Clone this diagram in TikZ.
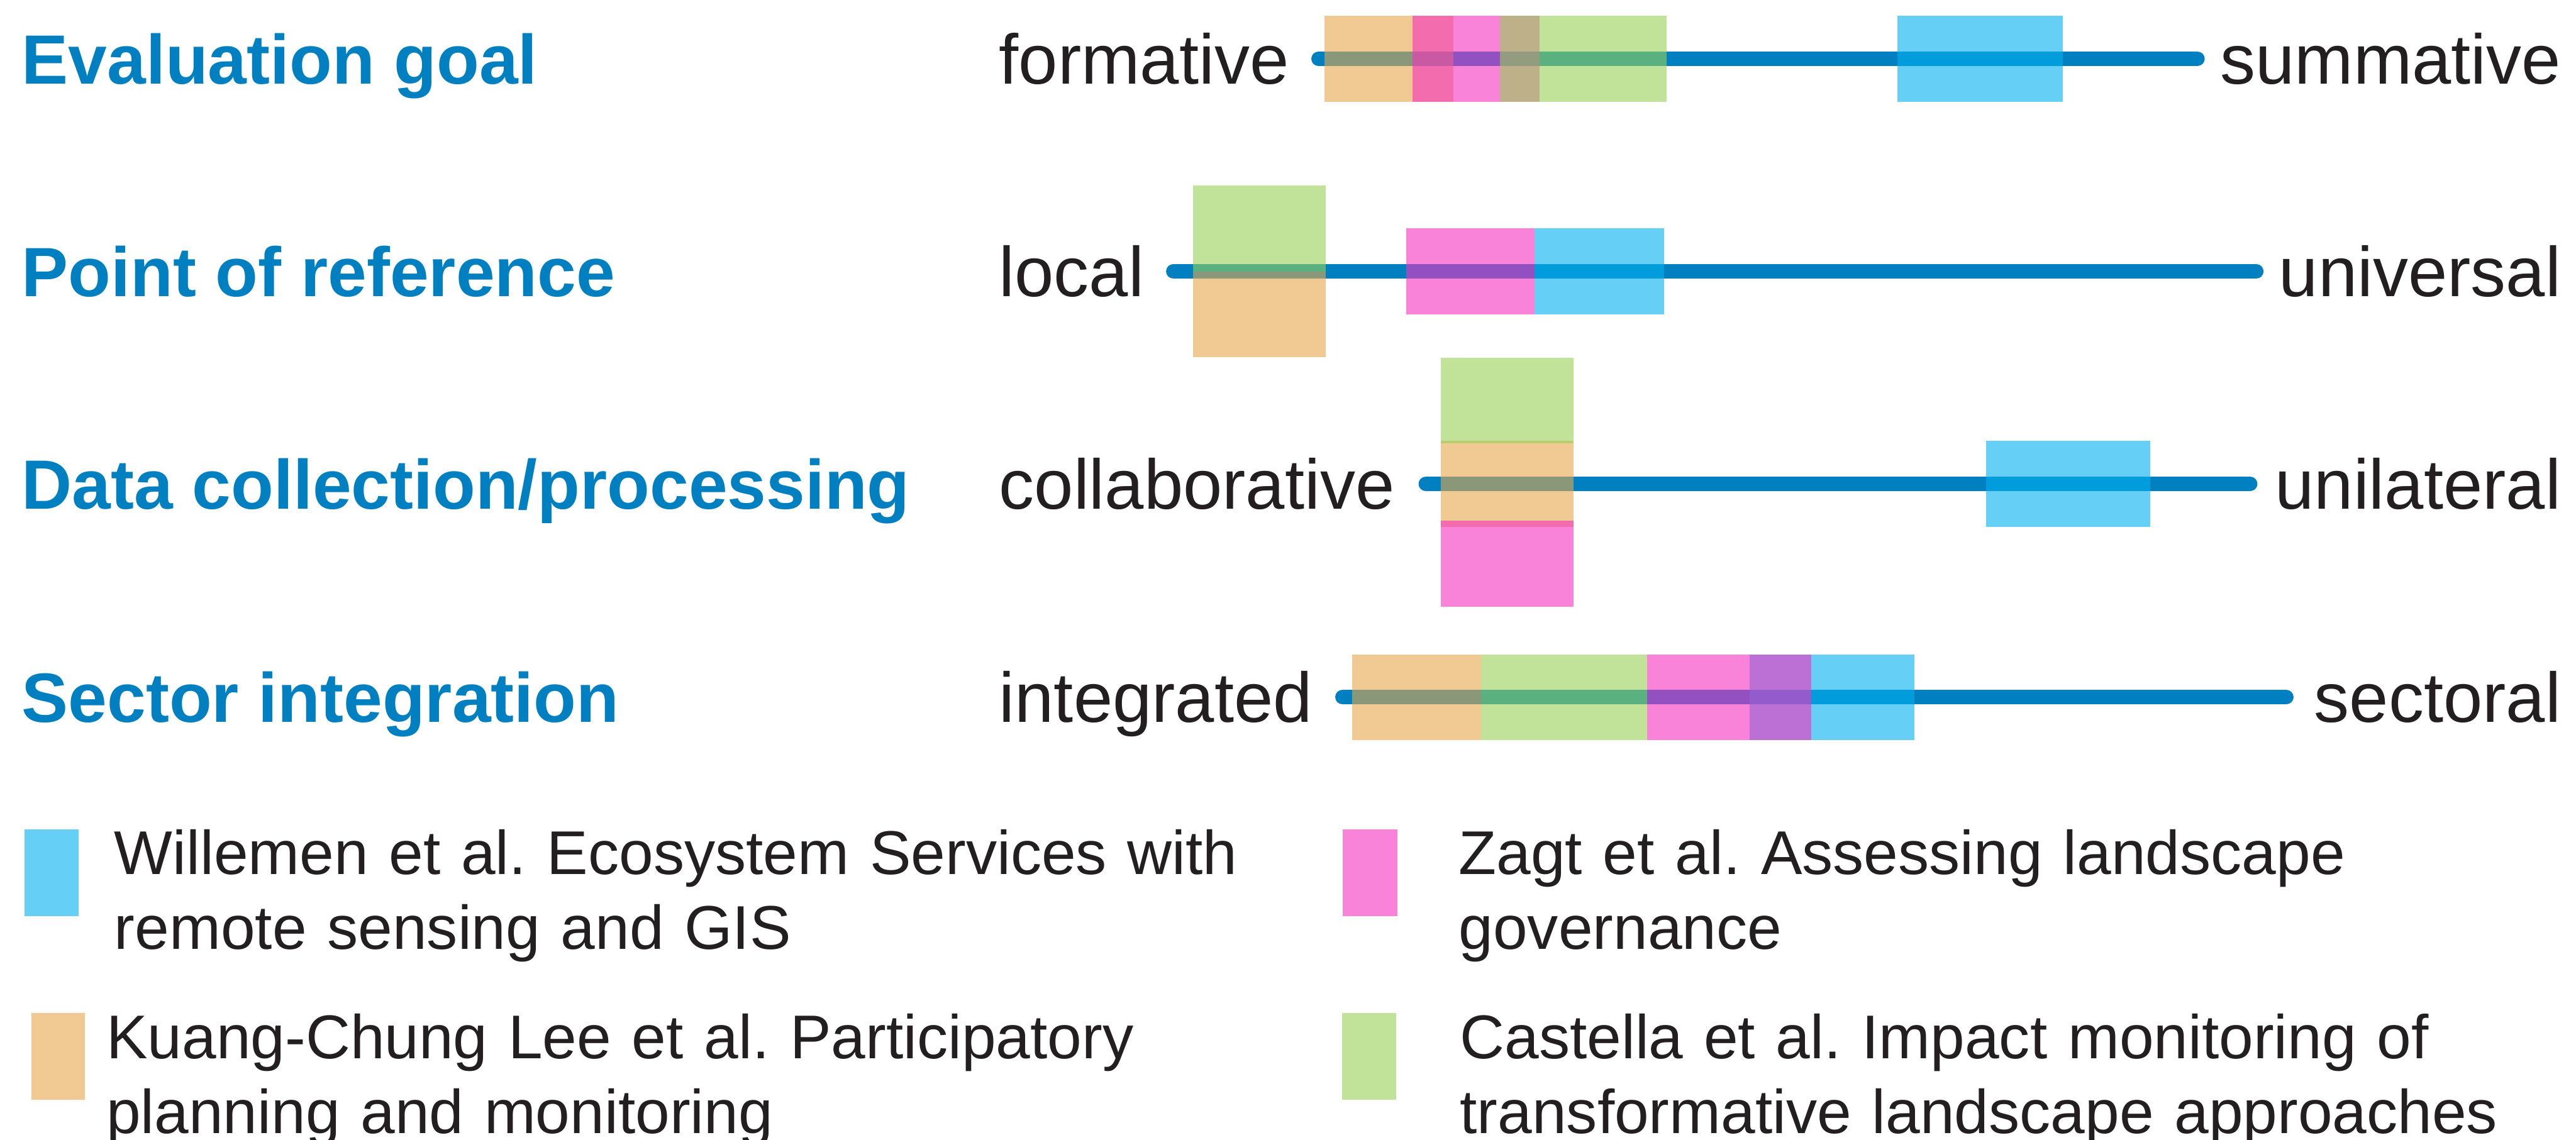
\documentclass[tikz,border=0pt]{standalone}
\usepackage{fontspec}
\setmainfont{Liberation Sans}
\usepackage{tikz}
\usetikzlibrary{positioning}
\usepackage{xcolor}
\frenchspacing

\definecolor{axisblue}{HTML}{0080C0}
\definecolor{inkblack}{HTML}{231F20}
\definecolor{willemen}{HTML}{00AFF0}
\definecolor{lee}{HTML}{E8A74B}
\definecolor{zagt}{HTML}{F530C0}
\definecolor{castella}{HTML}{96D055}

\tikzset{
  axistitle/.style={anchor=base west, inner sep=0pt, text=axisblue, font=\fontsize{32.4}{39}\selectfont\bfseries},
  poleleft/.style={anchor=base west, inner sep=0pt, text=inkblack, font=\fontsize{32.7}{39}\selectfont},
  poleright/.style={anchor=base east, inner sep=0pt, text=inkblack, font=\fontsize{32.7}{39}\selectfont},
  scaleline/.style={draw=axisblue, line width=0.24cm, line cap=round},
  band/.style={draw=none, fill opacity=0.6},
  legendtext/.style={anchor=base west, inner sep=0pt, text=inkblack, text width=20cm, align=left,
    font=\fontsize{28.7}{34.7}\selectfont}
}

\begin{document}
\begin{tikzpicture}
            \useasboundingbox (0,0) rectangle (42.04,18.60);

            % Row 1 - evaluation goal
            \node[axistitle] (goal) at (0.35,17.23) {Evaluation goal};
            \node[poleleft] (formative) at (16.30,17.23) {formative};
            \node[poleright] (summative) at (41.80,17.23) {summative};
            \coordinate (goalL) at (21.52,17.64);
            \coordinate (goalR) at (35.86,17.64);
            \draw[scaleline] (goalL) -- (goalR);

            % Row 2 - point of reference
            \node[axistitle] (reference) at (0.35,13.76) {Point of reference};
            \node[poleleft] (local) at (16.30,13.76) {local};
            \node[poleright] (universal) at (41.80,13.76) {universal};
            \coordinate (refL) at (19.15,14.17);
            \coordinate (refR) at (36.82,14.17);
            \draw[scaleline] (refL) -- (refR);

            % Row 3 - data collection
            \node[axistitle] (data) at (0.35,10.29) {Data collection/processing};
            \node[poleleft] (collaborative) at (16.30,10.29) {collaborative};
            \node[poleright] (unilateral) at (41.80,10.29) {unilateral};
            \coordinate (dataL) at (23.27,10.70);
            \coordinate (dataR) at (36.72,10.70);
            \draw[scaleline] (dataL) -- (dataR);

            % Row 4 - sector integration
            \node[axistitle] (sector) at (0.35,6.81) {Sector integration};
            \node[poleleft] (integrated) at (16.30,6.81) {integrated};
            \node[poleright] (sectoral) at (41.80,6.81) {sectoral};
            \coordinate (sectorL) at (21.91,7.22);
            \coordinate (sectorR) at (37.31,7.22);
            \draw[scaleline] (sectorL) -- (sectorR);

            % Bands: blue first, then orange, pink, green on top
            \fill[band, fill=willemen] (30.97,16.94) rectangle (33.66,18.34);
            \fill[band, fill=willemen] (25.04,13.47) rectangle (27.16,14.87);
            \fill[band, fill=willemen] (32.41,10.00) rectangle (35.09,11.40);
            \fill[band, fill=willemen] (28.55,6.52) rectangle (31.24,7.92);

            \fill[band, fill=lee] (21.62,16.94) rectangle (23.72,18.34);
            \fill[band, fill=lee] (19.47,12.77) rectangle (21.64,14.17);
            \fill[band, fill=lee] (23.51,10.00) rectangle (25.68,11.40);
            \fill[band, fill=lee] (22.07,6.52) rectangle (24.17,7.92);

            \fill[band, fill=zagt] (23.05,16.94) rectangle (25.13,18.34);
            \fill[band, fill=zagt] (22.95,13.47) rectangle (25.04,14.87);
            \fill[band, fill=zagt] (23.51,8.70) rectangle (25.68,10.10);
            \fill[band, fill=zagt] (26.88,6.52) rectangle (29.56,7.92);

            \fill[band, fill=castella] (24.48,16.94) rectangle (27.20,18.34);
            \fill[band, fill=castella] (19.47,14.17) rectangle (21.64,15.57);
            \fill[band, fill=castella] (23.51,11.36) rectangle (25.68,12.76);
            \fill[band, fill=castella] (24.17,6.52) rectangle (26.88,7.92);

            % Legend
            \fill[band, fill=willemen] (0.40,3.65) rectangle (1.28,5.06);
            \node[legendtext] (legWillemen) at (1.86,4.33) {Willemen et al. Ecosystem Services with\\remote sensing and GIS};
            \fill[band, fill=zagt] (21.91,3.65) rectangle (22.81,5.06);
            \node[legendtext] (legZagt) at (23.80,4.33) {Zagt et al. Assessing landscape\\governance};
            \fill[band, fill=lee] (0.51,0.65) rectangle (1.39,2.06);
            \node[legendtext] (legLee) at (1.73,1.32) {Kuang-Chung Lee et al. Participatory\\planning and monitoring};
            \fill[band, fill=castella] (21.90,0.65) rectangle (22.78,2.06);
            \node[legendtext] (legCastella) at (23.82,1.32) {Castella et al. Impact monitoring of\\transformative landscape approaches};
        \end{tikzpicture}
\end{document}
